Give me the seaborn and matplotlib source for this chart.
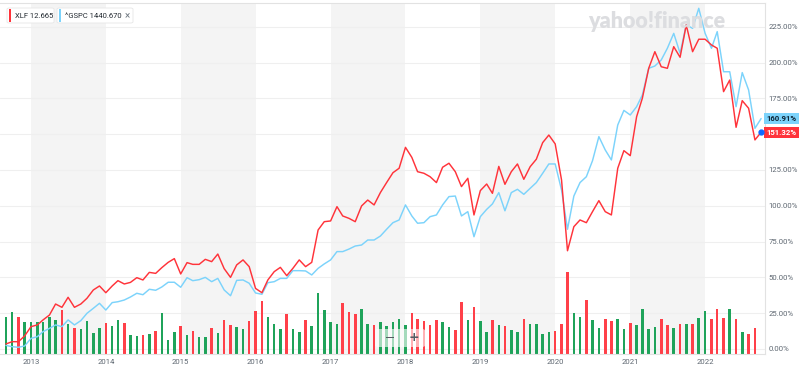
import numpy as np
import pandas as pd
import matplotlib
matplotlib.use("Agg")
import matplotlib.pyplot as plt
from matplotlib.patches import Rectangle, FancyBboxPatch
import seaborn as sns

# ---------------- data ----------------
months = pd.date_range("2012-09-01", "2022-10-01", freq="MS")  # 122 monthly points

xlf_pct = [3.5, 5.1, 5.1, 9.1, 15.6, 16.8, 20.3, 23.7, 31.4, 29.1,
           36.1, 29.1, 31.4, 35.4, 41.2, 44.0, 39.3, 44.0, 47.7, 45.4,
           46.5, 49.8, 48.2, 53.5, 52.8, 56.8, 60.5, 63.1, 52.4, 60.3,
           59.1, 59.1, 62.6, 61.0, 66.3, 56.1, 50.0, 58.7, 62.2, 57.5,
           42.3, 39.3, 48.2, 54.0, 57.0, 51.2, 56.3, 62.2, 57.5, 60.5,
           83.1, 88.9, 89.4, 99.4, 92.9, 91.2, 88.9, 99.9, 104.0, 100.6,
           109.3, 116.2, 123.1, 126.2, 140.8, 133.8, 123.8, 122.7, 120.3, 116.2,
           126.9, 129.7, 123.8, 113.4, 119.2, 93.6, 110.6, 115.2, 108.7, 127.5,
           115.0, 123.8, 129.2, 118.5, 127.3, 132.5, 144.1, 149.4, 143.2, 118.0,
           68.6, 85.4, 90.1, 88.2, 95.9, 103.6, 95.9, 93.6, 126.2, 138.5,
           135.0, 162.2, 175.1, 196.0, 207.6, 197.1, 196.0, 211.1, 203.7, 226.3,
           207.6, 216.3, 216.3, 212.3, 210.0, 179.7, 187.8, 154.8, 173.4, 168.1,
           146.0, 151.32]

gspc_pct = [2.5, 1.6, 1.2, 2.1, 7.4, 8.6, 12.1, 14.4, 16.8, 15.6,
            20.3, 16.8, 19.8, 24.9, 28.4, 31.9, 27.2, 32.4, 33.0, 34.2,
            36.3, 38.9, 37.9, 41.7, 41.0, 43.3, 46.6, 46.6, 43.1, 49.8,
            47.7, 48.4, 50.0, 47.0, 49.3, 41.2, 37.2, 47.9, 48.2, 45.9,
            39.1, 38.2, 46.3, 47.0, 49.3, 49.3, 54.7, 54.7, 54.5, 51.7,
            56.3, 59.4, 62.2, 68.0, 68.0, 69.8, 71.9, 72.6, 76.1, 76.1,
            78.9, 83.6, 88.2, 90.1, 100.6, 92.9, 87.8, 88.2, 92.4, 93.6,
            100.6, 106.4, 106.8, 92.9, 95.9, 78.4, 92.4, 97.5, 101.3, 109.2,
            96.5, 109.2, 111.5, 108.0, 112.2, 116.2, 122.7, 129.2, 129.2, 111.0,
            83.6, 106.8, 116.2, 120.3, 131.5, 148.3, 139.0, 132.0, 156.4, 166.6,
            163.4, 169.2, 177.4, 196.0, 197.6, 201.8, 210.0, 220.4, 206.5, 226.3,
            223.9, 237.9, 220.4, 210.0, 221.6, 193.6, 193.6, 169.2, 193.0, 180.9,
            154.1, 160.91]

# relative monthly volume (XLF), Sep 2012 .. Sep 2022
volume = [36.7, 42.0, 36.7, 31.7, 32.0, 32.0, 32.0, 36.7, 33.7, 43.7,
          29.7, 26.0, 25.0, 32.7, 21.0, 26.3, 30.7, 28.3, 33.7, 31.0,
          19.3, 17.7, 19.0, 20.3, 23.3, 41.3, 14.3, 21.7, 28.0, 19.3,
          22.7, 17.0, 17.3, 25.7, 21.0, 33.7, 29.0, 27.3, 25.3, 32.7,
          43.3, 53.3, 37.3, 30.3, 25.0, 39.7, 25.0, 21.7, 33.7, 28.3,
          61.3, 43.7, 31.7, 30.3, 51.3, 42.0, 40.3, 45.3, 29.7, 29.0,
          31.7, 28.3, 32.3, 35.3, 29.3, 41.0, 35.0, 33.3, 28.7, 34.3,
          32.0, 27.0, 23.7, 52.3, 34.3, 47.0, 32.7, 21.7, 34.3, 28.7,
          28.0, 24.3, 22.3, 35.3, 29.7, 30.3, 20.3, 22.3, 22.7, 30.3,
          81.7, 41.3, 37.0, 54.3, 34.3, 26.0, 35.3, 33.0, 35.3, 25.0,
          31.3, 29.0, 44.7, 25.0, 27.3, 35.0, 29.0, 25.7, 30.0, 30.0,
          30.3, 36.0, 43.0, 35.0, 45.0, 35.7, 45.0, 35.0, 22.3, 19.7,
          26.3]
vol_dir = list("GGRGGGGGGR" "GRGGGGRGGR" "GGRGRGGGRG" "RGGRGRRGGR"
               "RRGGGRGGRG" "GGGGRRRGGR" "GGGGGRRRRR" "GGRRGRGGRG"
               "RGGRGGGGRR" "RGGRGGRRGG" "RGGGGRRGRG" "RGGRRRGRGR" "R")

years = list(range(2013, 2023))
y_ticks = [0, 25, 50, 75, 100, 125, 150, 175, 200, 225]
series_names = ["XLF", "^GSPC"]
legend_values = ["12.665", "1440.670"]

# ---------------- style ----------------
sns.set_theme(style="white")
plt.rcParams["font.family"] = ["Roboto", "DejaVu Sans"]

RED = "#ff333a"
BLUE = "#7cd3fb"
GREEN_BAR = "#1fa35a"
RED_BAR = "#ff4049"
TXT = "#5f6872"

W, H = 800, 371
fig = plt.figure(figsize=(W / 100, H / 100), dpi=100)
fig.patch.set_facecolor("white")


def fx(px):
    return px / W


def fy(py):
    return 1 - py / H


ax = fig.add_axes([0, fy(354), fx(765), (354 - 3) / H])
ax.set_facecolor("white")

YMIN, YMAX = -3.5, 241.6
PX_PER_UNIT = 351 / (YMAX - YMIN)

# lines
df = pd.DataFrame({"date": months, "XLF": xlf_pct, "GSPC": gspc_pct})
sns.lineplot(data=df, x="date", y="GSPC", color=BLUE, lw=1.05, ax=ax, zorder=4)
sns.lineplot(data=df, x="date", y="XLF", color=RED, lw=1.05, ax=ax, zorder=5)

# alternating year bands
for y in years[::2]:
    ax.axvspan(pd.Timestamp(f"{y}-01-01"), pd.Timestamp(f"{y + 1}-01-01"),
               color="#f4f4f4", lw=0, zorder=0.1)

# volume bars
bar_colors = [GREEN_BAR if d == "G" else RED_BAR for d in vol_dir]
ax.bar(months[:len(volume)], np.array(volume) / PX_PER_UNIT, bottom=YMIN,
       width=12.5, color=bar_colors, lw=0, zorder=2)

ax.set_xlim(pd.Timestamp("2012-08-03"), pd.Timestamp("2022-10-20"))
ax.set_ylim(YMIN, YMAX)

# axes / ticks
ax.yaxis.tick_right()
ax.set_yticks(y_ticks, [("" if t == 150 else f"{t:.2f}%") for t in y_ticks])
ax.set_xticks([pd.Timestamp(f"{y}-01-01") for y in years], [str(y) for y in years])
ax.tick_params(axis="y", length=0, pad=2.5, labelsize=5.6, labelcolor=TXT)
ax.tick_params(axis="x", length=0, pad=3.5, labelsize=5.6, labelcolor=TXT)
ax.set_xlabel("")
ax.set_ylabel("")
ax.grid(axis="y", color="#efefef", lw=0.8)
ax.grid(axis="x", visible=False)
for s in ["top", "right", "bottom"]:
    ax.spines[s].set_color("#e2e2e2")
    ax.spines[s].set_linewidth(0.8)
ax.spines["left"].set_visible(False)

# end-value labels
ax.text(1.002, gspc_pct[-1], f"{gspc_pct[-1]:.2f}%", transform=ax.get_yaxis_transform(),
        ha="left", va="center", fontsize=5.6, color="#0c2233", fontweight="bold",
        clip_on=False, zorder=10,
        bbox=dict(boxstyle="square,pad=0.28", fc=BLUE, ec="none"))
ax.text(1.002, xlf_pct[-1], f"{xlf_pct[-1]:.2f}%", transform=ax.get_yaxis_transform(),
        ha="left", va="center", fontsize=5.6, color="white", fontweight="bold",
        clip_on=False, zorder=10,
        bbox=dict(boxstyle="square,pad=0.28", fc=RED, ec="none"))
ax.plot([months[-1]], [xlf_pct[-1]], "o", ms=3.5, color="#0f69ff", zorder=11, clip_on=False)

# watermark
fig.text(fx(657), fy(21), "yahoo!finance", ha="center", va="center",
         fontsize=15.5, fontweight="heavy", color="#dcdde0", family=["Lato", "DejaVu Sans"])

# legend chips
def chip(x0, x1, color, label):
    fig.add_artist(FancyBboxPatch((fx(x0), fy(23)), fx(x1) - fx(x0), fy(8) - fy(23),
                                  boxstyle="round,pad=0,rounding_size=0.003",
                                  transform=fig.transFigure, fc="white",
                                  ec="#e6e6e6", lw=0.6, zorder=20))
    fig.add_artist(Rectangle((fx(x0 + 1.5), fy(21.5)), fx(2.5), fy(9.5) - fy(21.5),
                             transform=fig.transFigure, fc=color, ec="none", zorder=21))
    fig.text(fx(x0 + 8), fy(15.7), label, ha="left", va="center", fontsize=5.5,
             color="#232a31", zorder=22)


chip(7, 54, RED, f"{series_names[0]} {legend_values[0]}")
chip(57, 133, BLUE, f"{series_names[1]} {legend_values[1]}")
fig.text(fx(127), fy(15.7), "×", ha="center", va="center", fontsize=7,
         color="#6e7780", zorder=22)

# zoom control overlay
fig.add_artist(FancyBboxPatch((fx(375), fy(347)), fx(50), fy(329) - fy(347),
                              boxstyle="round,pad=0,rounding_size=0.004",
                              transform=fig.transFigure, fc="white", alpha=0.6,
                              ec="none", zorder=20))
fig.add_artist(Rectangle((fx(386), fy(338.2)), fx(8), fy(336.8) - fy(338.2),
                         transform=fig.transFigure, fc="#555b61", ec="none", zorder=21))
fig.text(fx(414), fy(337.5), "+", ha="center", va="center", fontsize=9,
         color="#555b61", fontweight="bold", family=["DejaVu Sans"], zorder=21)

fig.savefig("out.png", dpi=100, facecolor="white")
